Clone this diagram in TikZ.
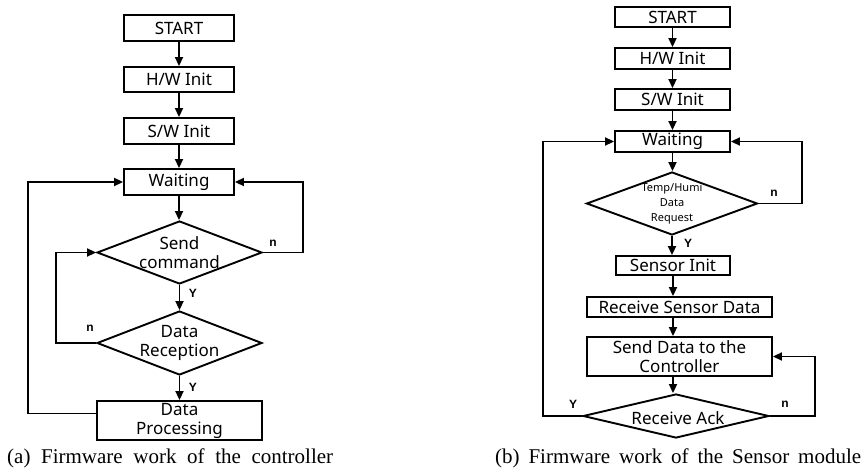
\documentclass[tikz,border=0pt]{standalone}
\usepackage{fontspec}
\setmainfont{Liberation Serif}
\newfontfamily\boxfont{Noto Sans}
\newfontfamily\ynfont{Liberation Sans}
\usetikzlibrary{shapes.geometric,arrows.meta}

\begin{document}
\begin{tikzpicture}[x=1pt,y=-1pt,
  every node/.style={inner sep=0pt},
  flow/.style={line width=1.9pt,-{Triangle[length=9pt,width=8pt]}},
  stepbox/.style={draw,line width=1.9pt,align=center,
    font=\boxfont\fontsize{17}{19}\selectfont},
  decision/.style={draw,diamond,line width=1.9pt,inner sep=0pt},
  dtext/.style={align=center,font=\boxfont\fontsize{17}{19}\selectfont},
  smalltext/.style={align=center,font=\boxfont\fontsize{11}{15}\selectfont},
  yn/.style={font=\ynfont\bfseries\fontsize{12}{12}\selectfont},
  caption/.style={anchor=base west,font=\fontsize{21}{24}\selectfont}]

\fill[white] (0,0) rectangle (865,468);
\useasboundingbox (0,0) rectangle (865,468);

% ---------- (a) controller ----------
\node[stepbox,minimum width=110pt,minimum height=26pt] (startA) at (179,28) {START};
\node[stepbox,minimum width=110pt,minimum height=25pt] (hwA) at (179,79.5) {H/W Init};
\node[stepbox,minimum width=110pt,minimum height=26pt] (swA) at (179,131) {S/W Init};
\node[stepbox,minimum width=110pt,minimum height=26pt] (waitA) at (179,182) {Waiting};
\node[decision,minimum width=165pt,minimum height=63pt] (sendA) at (179.5,252.5) {};
\node[dtext] (sendAt) at (sendA) {Send\\command};
\node[decision,minimum width=165pt,minimum height=64pt] (recvA) at (179.5,343) {};
\node[dtext] (recvAt) at (recvA) {Data\\Reception};
\node[stepbox,minimum width=165pt,minimum height=39pt] (procA) at (179.5,420.5) {Data\\Processing};

\coordinate (rA) at (303,0);
\coordinate (iA) at (56,0);
\coordinate (oA) at (28,0);

\draw[flow] (startA.south) -- (hwA.north);
\draw[flow] (hwA.south) -- (swA.north);
\draw[flow] (swA.south) -- (waitA.north);
\draw[flow] (waitA.south) -- (waitA.south |- sendA.north);
\draw[flow] (sendA.south) -- (recvA.north);
\draw[flow] (recvA.south) -- (recvA.south |- procA.north);
\draw[flow] (sendA.east) -- (sendA.east -| rA) -- (waitA.east -| rA) -- (waitA.east);
\draw[flow] (recvA.west) -- (recvA.west -| iA) -- (sendA.west -| iA) -- (sendA.west);
\draw[flow] ([yshift=7pt]procA.west) -- ([yshift=7pt]procA.west -| oA) -- (waitA.west -| oA) -- (waitA.west);

\node[yn] (nA1) at (273,243) {n};
\node[yn] (yA1) at (193,293) {Y};
\node[yn] (nA2) at (90,328) {n};
\node[yn] (yA2) at (193,387) {Y};

% ---------- (b) sensor module ----------
\node[stepbox,minimum width=115pt,minimum height=20pt] (startB) at (672.5,17) {START};
\node[stepbox,minimum width=115pt,minimum height=21pt] (hwB) at (672.5,58.5) {H/W Init};
\node[stepbox,minimum width=115pt,minimum height=21pt] (swB) at (672.5,99.5) {S/W Init};
\node[stepbox,minimum width=115pt,minimum height=21pt] (waitB) at (672.5,141.5) {Waiting};
\node[decision,minimum width=171pt,minimum height=63pt] (reqB) at (672,203.5) {};
\node[smalltext] (reqBt) at (reqB) {Temp/Humi\\Data\\Request};
\node[stepbox,minimum width=114pt,minimum height=19pt] (sensB) at (673,265.5) {Sensor Init};
\node[stepbox,minimum width=185pt,minimum height=20pt] (rsdB) at (679.5,307) {Receive Sensor Data};
\node[stepbox,minimum width=185pt,minimum height=39pt] (sdcB) at (679.5,356.5) {Send Data to the\\Controller};
\node[decision,minimum width=186pt,minimum height=44pt] (ackB) at (676,416) {};
\node[dtext] (ackBt) at (678,418) {Receive Ack};

\coordinate (rB) at (802,0);
\coordinate (rB2) at (815,0);
\coordinate (oB) at (543,0);

\draw[flow] (startB.south) -- (hwB.north);
\draw[flow] (hwB.south) -- (swB.north);
\draw[flow] (swB.south) -- (waitB.north);
\draw[flow] (waitB.south) -- (waitB.south |- reqB.north);
\draw[flow] (reqB.south) -- (reqB.south |- sensB.north);
\draw[flow] (sensB.south) -- (sensB.south |- rsdB.north);
\draw[flow] (rsdB.south -| sensB) -- (sdcB.north -| sensB);
\draw[flow] (sdcB.south -| sensB) -- (ackB.north -| sensB);
\draw[flow] (reqB.east) -- (reqB.east -| rB) -- (waitB.east -| rB) -- (waitB.east);
\draw[flow] (ackB.east) -- (ackB.east -| rB2) -- (sdcB.east -| rB2) -- (sdcB.east);
\draw[flow] (ackB.west) -- (ackB.west -| oB) -- (waitB.west -| oB) -- (waitB.west);

\node[yn] (nB1) at (774,193) {n};
\node[yn] (yB1) at (688,243) {Y};
\node[yn] (yB2) at (573,404) {Y};
\node[yn] (nB2) at (785,404) {n};

% ---------- captions ----------
\node[caption] (capA) at (7,463) {\makebox[326pt][s]{(a) Firmware work of the controller}};
\node[caption] (capB) at (495,463) {\makebox[366pt][s]{(b) Firmware work of the Sensor module}};
\end{tikzpicture}
\end{document}
